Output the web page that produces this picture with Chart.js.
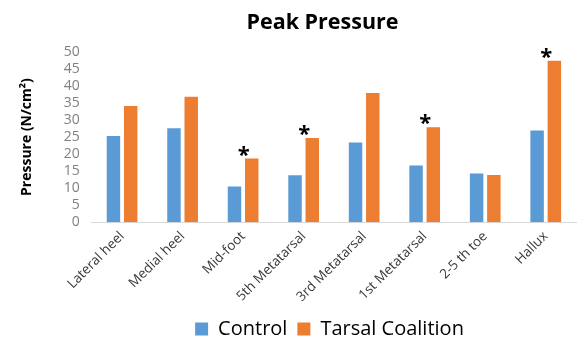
<!DOCTYPE html>
<html>
<head>
<meta charset="utf-8">
<script src="https://cdn.jsdelivr.net/npm/chart.js@4/dist/chart.umd.min.js"></script>
<style>
  html, body { margin: 0; padding: 0; background: #fff; }
  #wrap { width: 579px; height: 353px; position: relative; }
</style>
</head>
<body>
<div id="wrap"><canvas id="myChart"></canvas></div>
<script>
// chart data
const categories = ["Lateral heel", "Medial heel", "Mid-foot", "5th Metatarsal", "3rd Metatarsal", "1st Metatarsal", "2-5 th toe", "Hallux"];
const controlValues = [25.3, 27.6, 10.5, 13.8, 23.4, 16.7, 14.3, 26.9];
const tarsalValues = [34.1, 36.8, 18.7, 24.7, 37.9, 27.9, 13.9, 47.4];
const significant = [false, false, true, true, false, true, false, true];
const yTicks = [0, 5, 10, 15, 20, 25, 30, 35, 40, 45, 50];

const fontFam = "'Open Sans', 'Liberation Sans', sans-serif";

// draws the * marks above the Tarsal Coalition bars
const starPlugin = {
  id: 'stars',
  afterLayout(chart) {
    // title and legend sit centred over the plot area, not the whole canvas
    chart.legend.left += 34;
    chart.legend.right += 34;
    chart.legend.top -= 2;
    chart.legend.bottom -= 2;
    chart.titleBlock.left += 27;
    chart.titleBlock.right += 27;
  },
  afterDatasetsDraw(chart) {
    const ctx = chart.ctx;
    const meta = chart.getDatasetMeta(1);
    ctx.save();
    ctx.fillStyle = '#000';
    ctx.font = "bold 22px " + fontFam;
    ctx.textAlign = 'center';
    ctx.textBaseline = 'bottom';
    meta.data.forEach(function (bar, i) {
      if (significant[i]) {
        ctx.fillText('*', bar.x - 8, bar.y + 8);
      }
    });
    ctx.restore();
  }
};

new Chart("myChart", {
  type: "bar",
  data: {
    labels: categories,
    datasets: [{
      label: "Control",
      data: controlValues,
      backgroundColor: "#5b9bd5",
      categoryPercentage: 0.57,
      barPercentage: 0.78
    }, {
      label: "Tarsal Coalition",
      data: tarsalValues,
      backgroundColor: "#ed7d31",
      categoryPercentage: 0.57,
      barPercentage: 0.78
    }]
  },
  options: {
    responsive: true,
    maintainAspectRatio: false,
    animation: false,
    layout: { padding: { left: 15, right: 3, top: 4, bottom: 2 } },
    plugins: {
      title: {
        display: true,
        text: "Peak Pressure",
        color: "#000",
        font: { family: fontFam, size: 21.5, weight: "bold" },
        padding: { top: 6, bottom: 16 }
      },
      legend: {
        position: "bottom",
        labels: {
          color: "#000",
          font: { family: fontFam, size: 20 },
          boxWidth: 13,
          boxHeight: 13,
          padding: 10
        }
      },
      tooltip: { enabled: false }
    },
    scales: {
      x: {
        grid: { display: false, drawTicks: false },
        border: { color: "#d9d9d9" },
        ticks: {
          color: "#3a3a3a",
          font: { family: fontFam, size: 13.5 },
          maxRotation: 45,
          minRotation: 45,
          autoSkip: false,
          padding: 6
        }
      },
      y: {
        min: 0,
        max: 50,
        afterBuildTicks(axis) {
          axis.ticks = yTicks.map(function (v) { return { value: v }; });
        },
        grid: { display: false, drawTicks: false },
        border: { display: false },
        ticks: {
          color: "#808080",
          font: { family: fontFam, size: 14 },
          autoSkip: false,
          padding: 12
        },
        title: {
          display: true,
          text: "Pressure (N/cm²)",
          color: "#000",
          font: { family: fontFam, size: 14, weight: "bold" },
          padding: { bottom: 16 }
        }
      }
    }
  },
  plugins: [starPlugin]
});
</script>
</body>
</html>
